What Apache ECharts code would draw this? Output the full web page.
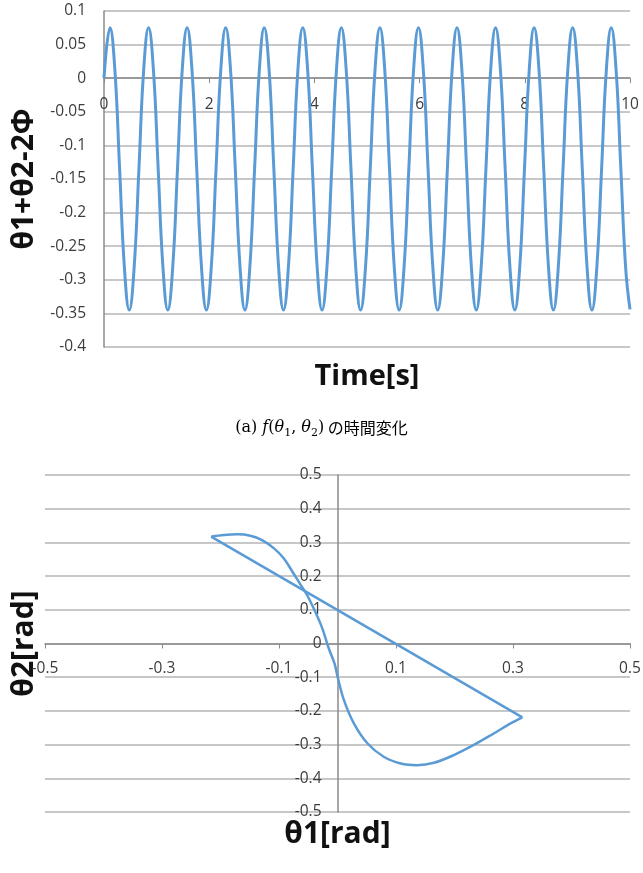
<!DOCTYPE html>
<html>
<head>
<meta charset="utf-8">
<script src="https://cdn.jsdelivr.net/npm/echarts@6/dist/echarts.min.js"></script>
<style>
html,body{margin:0;padding:0;background:#fff;}
#c{width:643px;height:873px;}
</style>
</head>
<body>
<div id="c"></div>
<script>
// ---- Chart (a): theta1+theta2-2Phi vs time ----
const timeSec = [
  0,
  0.114, 0.206, 0.297, 0.389, 0.480, 0.572, 0.664, 0.755,
  0.847, 0.939, 1.030, 1.122, 1.213, 1.305, 1.397, 1.488,
  1.580, 1.672, 1.763, 1.855, 1.946, 2.038, 2.130, 2.221,
  2.313, 2.405, 2.496, 2.588, 2.679, 2.771, 2.863, 2.954,
  3.046, 3.138, 3.229, 3.321, 3.412, 3.504, 3.596, 3.687,
  3.779, 3.871, 3.962, 4.054, 4.145, 4.237, 4.329, 4.420,
  4.512, 4.604, 4.695, 4.787, 4.878, 4.970, 5.062, 5.153,
  5.245, 5.337, 5.428, 5.520, 5.611, 5.703, 5.795, 5.886,
  5.978, 6.070, 6.161, 6.253, 6.344, 6.436, 6.528, 6.619,
  6.711, 6.803, 6.894, 6.986, 7.077, 7.169, 7.261, 7.352,
  7.444, 7.536, 7.627, 7.719, 7.810, 7.902, 7.994, 8.085,
  8.177, 8.269, 8.360, 8.452, 8.543, 8.635, 8.727, 8.818,
  8.910, 9.002, 9.093, 9.185, 9.276, 9.368, 9.460, 9.551,
  9.643, 9.735, 9.826, 9.918, 10.0
];
const thetaSum = [
  0.0,
  0.075, 0.013, -0.135, -0.283, -0.345, -0.283, -0.135, 0.013,
  0.075, 0.013, -0.135, -0.283, -0.345, -0.283, -0.135, 0.013,
  0.075, 0.013, -0.135, -0.283, -0.345, -0.283, -0.135, 0.013,
  0.075, 0.013, -0.135, -0.283, -0.345, -0.283, -0.135, 0.013,
  0.075, 0.013, -0.135, -0.283, -0.345, -0.283, -0.135, 0.013,
  0.075, 0.013, -0.135, -0.283, -0.345, -0.283, -0.135, 0.013,
  0.075, 0.013, -0.135, -0.283, -0.345, -0.283, -0.135, 0.013,
  0.075, 0.013, -0.135, -0.283, -0.345, -0.283, -0.135, 0.013,
  0.075, 0.013, -0.135, -0.283, -0.345, -0.283, -0.135, 0.013,
  0.075, 0.013, -0.135, -0.283, -0.345, -0.283, -0.135, 0.013,
  0.075, 0.013, -0.135, -0.283, -0.345, -0.283, -0.135, 0.013,
  0.075, 0.013, -0.135, -0.283, -0.345, -0.283, -0.135, 0.013,
  0.075, 0.013, -0.135, -0.283, -0.345, -0.283, -0.135, 0.013,
  0.075, 0.013, -0.135, -0.283, -0.344
];

// ---- Chart (b): theta2 vs theta1 ----
const theta1 = [
  -0.216, -0.194, -0.171, -0.149, -0.129, -0.109, -0.092, -0.077, -0.063,
  -0.052, -0.038, -0.026, -0.015, -0.005, 0.000, 0.011, 0.028, 0.051,
  0.079, 0.108, 0.136, 0.165, 0.199, 0.233, 0.267, 0.296, 0.316
];
const theta2 = [
  0.317, 0.322, 0.324, 0.320, 0.307, 0.283, 0.253, 0.213, 0.174,
  0.144, 0.094, 0.045, -0.014, -0.060, -0.098, -0.168, -0.237, -0.296,
  -0.336, -0.356, -0.361, -0.354, -0.331, -0.301, -0.267, -0.237, -0.219
];

const captionText = ['(a) ', 'f', '(', 'θ', '1', ', ', 'θ', '2', ')', ' の時間変化'];

// axis ranges
const t1Range = [0, 10, 2];          // min, max, interval
const s1Range = [-0.4, 0.1, 0.05];
const x2Range = [-0.5, 0.5, 0.2];
const y2Range = [-0.5, 0.5, 0.1];

const series1Data = timeSec.map((t, i) => [t, thetaSum[i]]);
const curveData = theta1.map((x, i) => [x, theta2[i]]);
const last = theta1.length - 1;
const closeData = [[theta1[last], theta2[last]], [theta1[0], theta2[0]]];

// grid geometry (layout)
const G1 = {left: 104, top: 11, width: 526, height: 336};
const G2 = {left: 45, top: 475, width: 585, height: 337};
// shift axes so they sit on the zero line of the other axis
const zeroFrac = (r) => (0 - r[0]) / (r[1] - r[0]);
const x1Offset = -G1.height * zeroFrac(s1Range);
const x2Offset = -G2.height * zeroFrac(y2Range);
const y2Offset = -G2.width * zeroFrac(x2Range);

const LABEL_FONT = '"Open Sans", "DejaVu Sans", sans-serif';
const NAME_FONT = '"Open Sans", "DejaVu Sans", sans-serif';
const labelColor = '#3c3c3c';
const gridColor = '#b5b5b5';
const axisColor = '#8a8a8a';
const lineColor = '#5b9bd5';

const chart = echarts.init(document.getElementById('c'), null, {renderer: 'canvas'});

const capStyles = ['n', 'i', 'n', 'i', 's', 'n', 'i', 's', 'n', 'j'];
const capRich = captionText.map((s, i) => '{' + capStyles[i] + '|' + s + '}').join('');

const labelStyle = (margin) => ({margin: margin, fontSize: 15.5, color: labelColor, fontFamily: LABEL_FONT});
const nameStyle = (size) => ({fontSize: size, fontWeight: 'bold', color: '#111', fontFamily: NAME_FONT});

chart.setOption({
  animation: false,
  backgroundColor: '#fff',
  textStyle: {fontFamily: LABEL_FONT},
  grid: [
    Object.assign({containLabel: false, outerBoundsMode: 'none'}, G1),
    Object.assign({containLabel: false, outerBoundsMode: 'none'}, G2)
  ],
  xAxis: [
    {
      gridIndex: 0, type: 'value', min: t1Range[0], max: t1Range[1], interval: t1Range[2],
      position: 'bottom', offset: x1Offset,
      name: 'Time[s]', nameLocation: 'middle', nameGap: 284,
      nameTextStyle: nameStyle(29),
      axisLine: {show: true, onZero: false, lineStyle: {color: axisColor, width: 1.5}},
      axisTick: {show: true, length: 5, lineStyle: {color: axisColor}},
      axisLabel: labelStyle(18),
      splitLine: {show: false}
    },
    {
      gridIndex: 1, type: 'value', min: x2Range[0], max: x2Range[1], interval: x2Range[2],
      position: 'bottom', offset: x2Offset,
      name: 'θ1[rad]', nameLocation: 'middle', nameGap: 176,
      nameTextStyle: nameStyle(30),
      axisLine: {show: true, onZero: false, lineStyle: {color: axisColor, width: 1.5}},
      axisTick: {show: true, length: 5, lineStyle: {color: axisColor}},
      axisLabel: labelStyle(17),
      splitLine: {show: false}
    }
  ],
  yAxis: [
    {
      gridIndex: 0, type: 'value', min: s1Range[0], max: s1Range[1], interval: s1Range[2],
      position: 'left',
      name: 'θ1+θ2-2Φ', nameLocation: 'middle', nameRotate: 90, nameGap: 51,
      nameTextStyle: nameStyle(30),
      axisLine: {show: true, onZero: false, lineStyle: {color: axisColor, width: 1.5}},
      axisTick: {show: false},
      axisLabel: labelStyle(18),
      splitLine: {show: true, lineStyle: {color: gridColor, width: 1.5}}
    },
    {
      gridIndex: 1, type: 'value', min: y2Range[0], max: y2Range[1], interval: y2Range[2],
      position: 'left', offset: y2Offset,
      name: 'θ2[rad]', nameLocation: 'middle', nameRotate: 90, nameGap: 298,
      nameTextStyle: nameStyle(30),
      axisLine: {show: true, onZero: false, lineStyle: {color: axisColor, width: 1.5}},
      axisTick: {show: false},
      axisLabel: labelStyle(16),
      splitLine: {show: true, lineStyle: {color: gridColor, width: 1.5}}
    }
  ],
  series: [
    {
      type: 'line', xAxisIndex: 0, yAxisIndex: 0, data: series1Data,
      showSymbol: false, smooth: 0.45, z: 3,
      lineStyle: {color: lineColor, width: 3}
    },
    {
      type: 'line', xAxisIndex: 1, yAxisIndex: 1, data: curveData,
      showSymbol: false, smooth: 0.35, z: 3,
      lineStyle: {color: lineColor, width: 2.5}
    },
    {
      type: 'line', xAxisIndex: 1, yAxisIndex: 1, data: closeData,
      showSymbol: false, smooth: false, z: 3,
      lineStyle: {color: lineColor, width: 2.5}
    }
  ],
  graphic: [
    {
      type: 'text', left: 'center', top: 420,
      style: {
        text: capRich,
        rich: {
          n: {fontFamily: '"DejaVu Serif", "Liberation Serif", serif', fontSize: 16, color: '#222', lineHeight: 22, verticalAlign: 'middle'},
          i: {fontFamily: '"DejaVu Serif", "Liberation Serif", serif', fontStyle: 'italic', fontSize: 16, color: '#222', lineHeight: 22, verticalAlign: 'middle'},
          s: {fontFamily: '"DejaVu Serif", "Liberation Serif", serif', fontSize: 11, color: '#222', lineHeight: 12, verticalAlign: 'bottom'},
          j: {fontFamily: '"Noto Sans CJK JP", sans-serif', fontSize: 16, color: '#222', lineHeight: 22, verticalAlign: 'middle'}
        }
      }
    }
  ]
});
</script>
</body>
</html>
